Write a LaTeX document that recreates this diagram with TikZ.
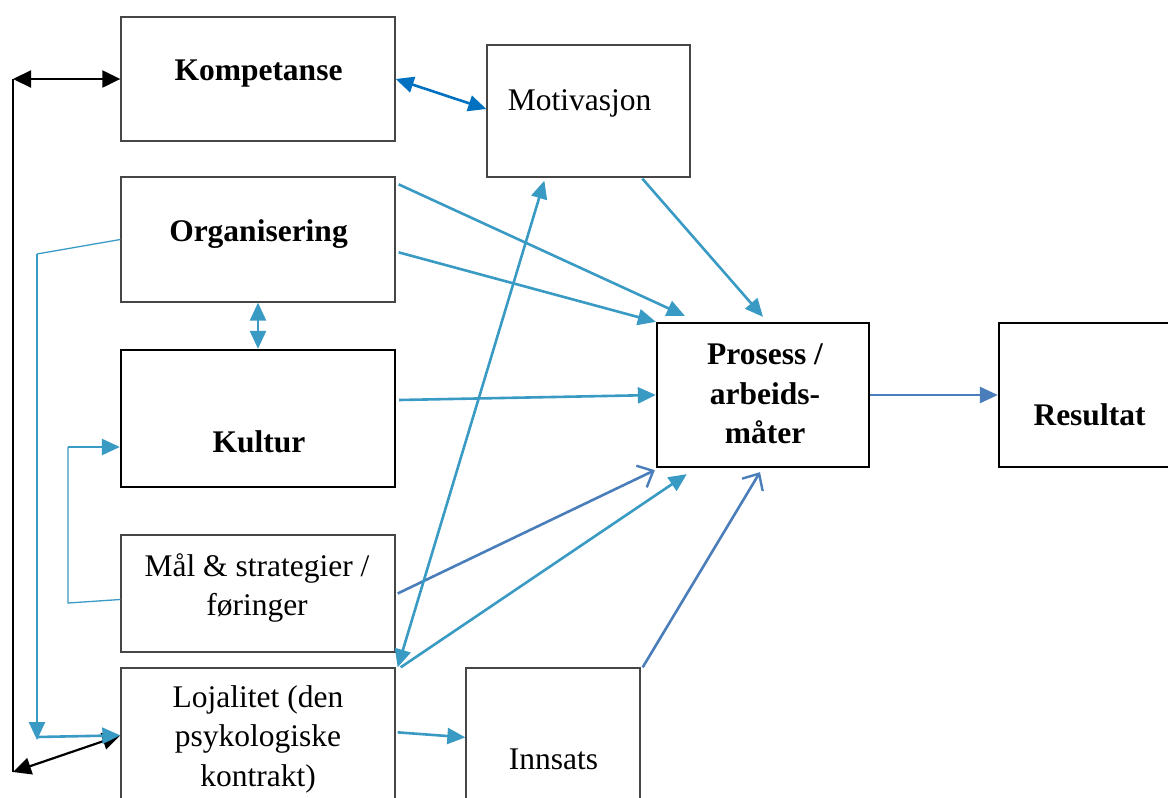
\documentclass[tikz,border=0pt]{standalone}
\usepackage{fontspec}
\setmainfont{Liberation Serif}
\usetikzlibrary{arrows.meta,calc}

\definecolor{flowteal}{RGB}{57,154,196}
\definecolor{flowblue}{RGB}{0,112,192}
\definecolor{flowsteel}{RGB}{74,126,187}
\definecolor{framegray}{RGB}{70,70,70}

\tikzset{
  box/.style={draw=framegray, line width=1.3pt, inner sep=0pt},
  heavybox/.style={draw=black, line width=2.3pt, inner sep=0pt},
  lbl/.style={font=\fontsize{31.5}{39.5}\selectfont, inner sep=0pt, align=center},
  tealtip/.tip={Triangle[length=18pt,width=16pt]},
  blacktip/.tip={Triangle[length=18pt,width=17pt]},
  opentip/.tip={Straight Barb[length=13pt,width=24pt,line width=2.4pt]},
  tealline/.style={draw=flowteal, line width=2.6pt},
  tealthin/.style={draw=flowteal, line width=1.3pt},
  steelline/.style={draw=flowsteel, line width=2.6pt},
  blackline/.style={draw=black, line width=2.2pt},
}

\begin{document}
\begin{tikzpicture}[x=1pt, y=-1pt]
  \useasboundingbox (0,0) rectangle (1168,798);
  \clip (0,0) rectangle (1168,798);

  % boxes
  \node[box, minimum width=274pt, minimum height=124pt] (komp) at (258,79) {};
  \node[box, minimum width=203pt, minimum height=132pt] (motiv) at (588.5,111) {};
  \node[box, minimum width=274pt, minimum height=125pt] (org) at (258,239.5) {};
  \node[heavybox, minimum width=274pt, minimum height=137pt] (kult) at (258,418.5) {};
  \node[box, minimum width=274pt, minimum height=117pt] (mal) at (258,593.5) {};
  \node[box, minimum width=274pt, minimum height=160pt] (loj) at (258,748) {};
  \node[box, minimum width=174pt, minimum height=162pt] (inns) at (553,749) {};
  \node[heavybox, minimum width=212pt, minimum height=144pt] (pros) at (763,395) {};
  \node[heavybox, minimum width=200pt, minimum height=144pt] (res) at (1099,395) {};

  % texts
  \node[lbl, anchor=base, font=\fontsize{31.5}{39.5}\selectfont\bfseries] (kompt) at (258.5,80) {Kompetanse};
  \node[lbl, anchor=base] (motivt) at (579.5,110) {Motivasjon};
  \node[lbl, anchor=base, font=\fontsize{31.5}{39.5}\selectfont\bfseries] (orgt) at (258.5,241) {Organisering};
  \node[lbl, anchor=base, font=\fontsize{31.5}{39.5}\selectfont\bfseries] (kultt) at (259,452) {Kultur};
  \node[lbl] (malt) at (257,588) {Mål \& strategier /\\føringer};
  \node[lbl] (lojt) at (258,739) {Lojalitet (den\\psykologiske\\kontrakt)};
  \node[lbl, anchor=base] (innst) at (553.5,769) {Innsats};
  \node[lbl, font=\fontsize{31.5}{39.5}\selectfont\bfseries] (prost) at (765,394) {Prosess /\\arbeids-\\måter};
  \node[lbl, anchor=base, font=\fontsize{31.5}{39.5}\selectfont\bfseries] (rest) at (1089.5,425) {Resultat};

  % black feedback loop on the left
  \coordinate (loopTop) at (13,79);
  \coordinate (loopBot) at (13,772);
  \draw[blackline] (loopTop) -- (loopBot);
  \draw[blackline, {blacktip}-{blacktip}] (loopTop) -- (komp.west);
  \draw[blackline, {blacktip}-{blacktip}] (loopBot) -- ($(loj.north west)+(0,68)$);

  % competence <-> motivation
  \draw[draw=flowblue, line width=2.6pt, {tealtip}-{tealtip}] (komp.east) -- ($(motiv.west)+(0,-2)$);

  % organisation
  \draw[tealline, -{tealtip}] ($(org.north east)+(3,8)$) -- ($(pros.north west)+(29,-6)$);
  \draw[tealline, -{tealtip}] ($(org.north east)+(3,76)$) -- (pros.north west);
  \draw[tealline, {tealtip}-{tealtip}] (org.south) -- (kult.north);
  \coordinate (orgBend) at (37,254);
  \coordinate (orgFoot) at (37,737);
  \draw[tealthin] (org.west) -- (orgBend);
  \draw[tealline, -{tealtip}] (orgBend) -- ($(orgFoot)+(0,3)$);
  \draw[tealline, -{tealtip}] (orgFoot) -- ($(loj.north west)+(0,68)$);

  % motivation -> process
  \draw[tealline, -{tealtip}] ($(motiv.south west)+(156,1)$) -- ($(pros.north)+(0,-5)$);

  % culture -> process
  \draw[tealline, -{tealtip}] ($(kult.east)+(3,-18.5)$) -- (pros.west);

  % goals & strategies
  \coordinate (malBendA) at (68,603);
  \coordinate (malBendB) at (68,447);
  \draw[tealthin] ($(mal.west)+(0,6)$) -- (malBendA) -- (malBendB);
  \draw[tealline, -{tealtip}] (malBendB) -- ($(kult.west)+(0,28.5)$);
  \draw[steelline, -{opentip}] ($(mal.east)+(2,0)$) -- ($(pros.south west)+(-1,2)$);

  % loyalty
  \draw[tealline, {tealtip}-{tealtip}] ($(loj.north east)+(2,0)$) -- ($(motiv.south west)+(58,3)$);
  \draw[tealline, -{tealtip}] ($(loj.north east)+(5,0)$) -- ($(pros.south west)+(31,6)$);
  \draw[tealline, -{tealtip}] ($(loj.north east)+(2,65)$) -- ($(inns.north west)+(0,70)$);

  % effort -> process
  \draw[steelline, -{opentip}] ($(inns.north east)+(2,0)$) -- ($(pros.south)+(-3,4)$);

  % process -> result
  \draw[steelline, -{tealtip}] (pros.east) -- (res.west);
\end{tikzpicture}
\end{document}
